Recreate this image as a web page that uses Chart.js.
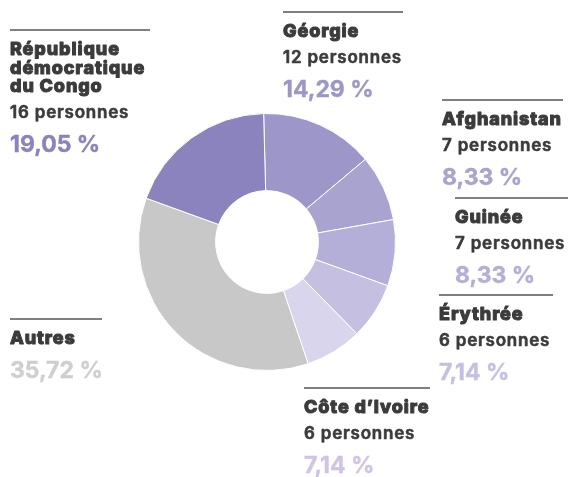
<!DOCTYPE html>
<html>
<head>
<meta charset="utf-8">
<script src="https://cdn.jsdelivr.net/npm/chart.js@4"></script>
<style>
  body { margin: 0; background: #fff; }
  #wrap { width: 568px; height: 477px; }
</style>
</head>
<body>
<div id="wrap"><canvas id="paysChart" width="568" height="477"></canvas></div>
<script>
// données
const pays = ["Géorgie", "Afghanistan", "Guinée", "Érythrée", "Côte d’Ivoire", "Autres", "République\ndémocratique\ndu Congo"];
const personnes = [12, 7, 7, 6, 6, null, 16];
const pourcentages = [14.29, 8.33, 8.33, 7.14, 7.14, 35.72, 19.05];

const couleurs = ["#9d97c9", "#a9a3d0", "#b4afd8", "#c5c0e2", "#d9d5ec", "#c8c8c8", "#8b83bd"];
const couleursPct = ["#9d97c9", "#a9a3d0", "#b4afd8", "#c5c0e2", "#cfc3e6", "#cfcfcf", "#8b83bd"];

// position des étiquettes : x du texte, y du filet, fin du filet
const etiquettes = [
    { x: 283, y: 12, x2: 403 },
    { x: 442, y: 100, x2: 563 },
    { x: 455, y: 198, x2: 568 },
    { x: 439, y: 295, x2: 553 },
    { x: 304, y: 388, x2: 430 },
    { x: 10, y: 319, x2: 102 },
    { x: 10, y: 30, x2: 150 }
];

function formatPct(v) {
    return v.toFixed(2).replace(".", ",") + " %";
}

// texte un peu plus gras : remplissage + contour fin de la même couleur
function texteGras(ctx, txt, x, y, epaisseur) {
    ctx.fillText(txt, x, y);
    if (epaisseur > 0) {
        ctx.lineWidth = epaisseur;
        ctx.strokeStyle = ctx.fillStyle;
        ctx.lineJoin = "round";
        ctx.strokeText(txt, x, y);
    }
}

const etiquettesPlugin = {
    id: "etiquettes",
    afterDraw(chart) {
        const ctx = chart.ctx;
        ctx.save();
        ctx.textBaseline = "alphabetic";
        ctx.textAlign = "left";
        etiquettes.forEach(function (e, i) {
            ctx.strokeStyle = "#555555";
            ctx.lineWidth = 1.5;
            ctx.beginPath();
            ctx.moveTo(e.x, e.y);
            ctx.lineTo(e.x2, e.y);
            ctx.stroke();

            let y = e.y + 25;
            ctx.fillStyle = "#3b3b3b";
            ctx.font = "800 18px Inter";
            ctx.letterSpacing = "0.9px";
            pays[i].split("\n").forEach(function (ligne, k) {
                if (k > 0) y += 18.5;
                texteGras(ctx, ligne, e.x, y, 1);
            });
            if (personnes[i] !== null) {
                y += 26;
                ctx.fillStyle = "#3b3b3b";
                ctx.font = "600 17px Inter";
                ctx.letterSpacing = "0.8px";
                texteGras(ctx, personnes[i] + " personnes", e.x, y, 0.6);
            }
            y += 34;
            ctx.fillStyle = couleursPct[i];
            ctx.font = "700 23px Inter";
            ctx.letterSpacing = "0px";
            texteGras(ctx, formatPct(pourcentages[i]), e.x, y, 0.4);
        });
        ctx.restore();
    }
};

document.addEventListener("DOMContentLoaded", function () {
    const ctx = document.getElementById("paysChart").getContext("2d");
    new Chart(ctx, {
        type: "doughnut",
        data: {
            labels: pays,
            datasets: [{
                data: pourcentages,
                backgroundColor: couleurs,
                borderColor: "#ffffff",
                borderWidth: 1
            }]
        },
        options: {
            responsive: false,
            animation: false,
            cutout: "40%",
            rotation: -1.5,
            layout: { padding: { left: 137, right: 171, top: 113, bottom: 106 } },
            plugins: {
                legend: { display: false },
                tooltip: { enabled: false }
            }
        },
        plugins: [etiquettesPlugin]
    });
});
</script>
</body>
</html>
